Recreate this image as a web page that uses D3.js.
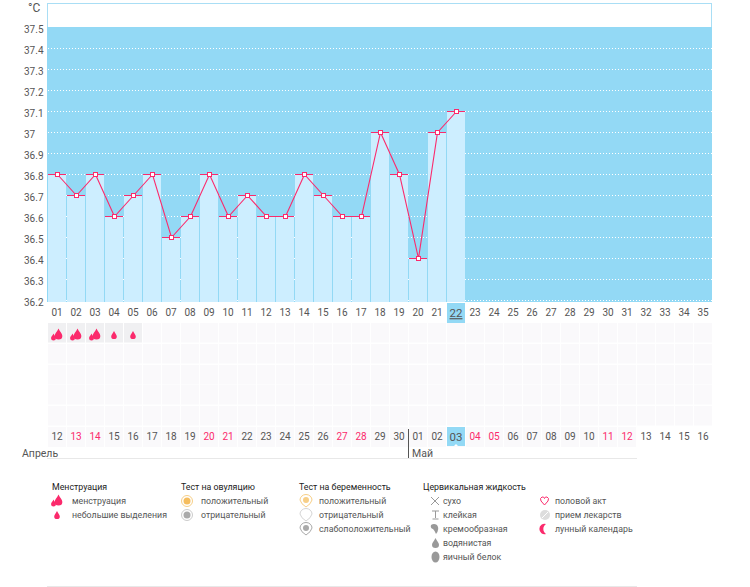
<!DOCTYPE html>
<html>
<head>
    <meta charset="utf-8">
    <script src="https://d3js.org/d3.v7.min.js" charset="utf-8"></script>
    <style>
        body { margin: 0; background: #fff; }
        svg text { font-family: Roboto, sans-serif; font-size: 10px; fill: #555; }
        svg text.legend { font-size: 8.8px; }
        .domain { display: none; }
    </style>
</head>
<body>
<script>
    // chart values
    const cycleDays = ["01","02","03","04","05","06","07","08","09","10","11","12","13","14","15","16","17","18","19","20","21","22","23","24","25","26","27","28","29","30","31","32","33","34","35"];
    const calendarDates = ["12","13","14","15","16","17","18","19","20","21","22","23","24","25","26","27","28","29","30","01","02","03","04","05","06","07","08","09","10","11","12","13","14","15","16"];
    const weekendColumns = [1,2,8,9,15,16,22,23,29,30];
    const temperatures = [36.8,36.7,36.8,36.6,36.7,36.8,36.5,36.6,36.8,36.6,36.7,36.6,36.6,36.8,36.7,36.6,36.6,37,36.8,36.4,37,37.1];
    const tempTicks = [36.2,36.3,36.4,36.5,36.6,36.7,36.8,36.9,37,37.1,37.2,37.3,37.4,37.5];
    const flowDays = ["big","big","big","small","small"];
    const rowIds = [0,1,2,3,4];
    const monthNames = ["Апрель","Май"];
    const legendTitles = ["Менструация","Тест на овуляцию","Тест на беременность","Цервикальная жидкость"];
    const legendFlow = ["менструация","небольшие выделения"];
    const legendOvulation = ["положительный","отрицательный"];
    const legendPregnancy = ["положительный","отрицательный","слабоположительный"];
    const legendFluid = ["сухо","клейкая","кремообразная","водянистая","яичный белок"];
    const legendOther = ["половой акт","прием лекарств","лунный календарь"];

    const blue = "#93d9f5", pink = "#fb2a6c", cell = "#faf9fb";
    const todayColumn = 21;

    const svg = d3.select("body").append("svg").attr("width", 750).attr("height", 587);

    const x = d3.scaleBand().domain(d3.range(35)).range([47.5, 712.5]);
    const y = d3.scaleLinear().domain([36.2, 37.5]).range([300.5, 27.5]);
    const legendRow = d3.scaleLinear().domain([0, 4]).range([501, 557]);
    // snap to the pixel row so thin lines stay sharp
    const py = d => Math.floor(y(d) + 0.01) + 0.5;

    // frame + background
    svg.append("rect").attr("x", 47.5).attr("y", 3.5).attr("width", 664).attr("height", 24)
        .attr("fill", "#fff").attr("stroke", "#a9def5");
    svg.append("rect").attr("x", 47).attr("y", 27).attr("width", 665).attr("height", 275).attr("fill", blue);

    // dotted grid
    svg.append("g").selectAll("line").data(tempTicks.slice(0, -1)).enter().append("line")
        .attr("x1", 48).attr("x2", 712)
        .attr("y1", d => py(d)).attr("y2", d => py(d))
        .attr("stroke", "#fff").attr("stroke-dasharray", "1 2");

    // bars
    svg.append("g").selectAll("rect").data(temperatures).enter().append("rect")
        .attr("x", (d, i) => x(i) + 0.5)
        .attr("y", d => py(d))
        .attr("width", 18)
        .attr("height", d => 302 - py(d))
        .attr("fill", "#cdeeff");

    // caps
    svg.append("g").selectAll("line").data(temperatures).enter().append("line")
        .attr("x1", (d, i) => x(i) + 0.5).attr("x2", (d, i) => x(i) + 18.5)
        .attr("y1", d => py(d)).attr("y2", d => py(d))
        .attr("stroke", pink);

    const line = d3.line().x((d, i) => x(i) + 10).y(d => py(d));
    svg.append("path").attr("d", line(temperatures)).attr("fill", "none").attr("stroke", pink).attr("stroke-width", 1.1);

    svg.append("g").selectAll("rect").data(temperatures).enter().append("rect")
        .attr("x", (d, i) => x(i) + 8)
        .attr("y", d => py(d) - 2)
        .attr("width", 4).attr("height", 4)
        .attr("fill", "#fff").attr("stroke", pink);

    // y axis
    svg.append("text").attr("x", 28).attr("y", 12).style("font-size", "12px").text("°C");
    const yAxis = svg.append("g").attr("transform", "translate(24,0)")
        .call(d3.axisLeft(y).tickValues(tempTicks).tickSize(0).tickFormat(d => String(d)));
    yAxis.selectAll("text").attr("x", 0).attr("dy", "0.5em").attr("text-anchor", "start");

    // cycle day axis
    svg.append("rect").attr("x", x(todayColumn) + 0.5).attr("y", 303).attr("width", 18).attr("height", 20).attr("fill", blue);
    const dayAxis = svg.append("g").attr("transform", "translate(0,303)")
        .call(d3.axisBottom(x).tickSize(0).tickFormat(i => cycleDays[i]));
    dayAxis.selectAll("text").attr("y", 6).attr("dy", "0.71em")
        .style("font-size", i => i === todayColumn ? "11.5px" : null)
        .style("text-decoration", i => i === todayColumn ? "underline" : null);

    // symptom cells
    const rowY = d3.scaleLinear().domain([0, 5]).range([323, 427]);
    rowIds.forEach(r => {
        svg.append("g").selectAll("rect").data(d3.range(35)).enter().append("rect")
            .attr("x", i => x(i) + 0.5).attr("y", Math.round(rowY(r)))
            .attr("width", 18).attr("height", 19.5)
            .attr("fill", i => r === 0 && i < flowDays.length ? "#f0f0f2" : cell);
    });

    function drop(px, dy, s) {
        return `M${px},${dy - s}C${px + s * 0.25},${dy - s * 0.4} ${px + s * 0.7},${dy - s * 0.1} ${px + s * 0.7},${dy + s * 0.35}`
            + `A${s * 0.7},${s * 0.65} 0 0 1 ${px - s * 0.7},${dy + s * 0.35}`
            + `C${px - s * 0.7},${dy - s * 0.1} ${px - s * 0.25},${dy - s * 0.4} ${px},${dy - s}Z`;
    }
    function flowIcon(g, kind, cx, cy) {
        if (kind === "big") {
            g.append("path").attr("d", drop(cx + 1.5, cy - 1, 5.5)).attr("fill", pink);
            g.append("path").attr("d", drop(cx - 3.5, cy + 2, 3.5)).attr("fill", pink);
        } else {
            g.append("path").attr("d", drop(cx, cy, 4)).attr("fill", pink);
        }
    }
    flowDays.forEach((kind, i) => flowIcon(svg.append("g"), kind, x(i) + 9.5, 335));

    // calendar row
    svg.append("g").selectAll("rect").data(d3.range(31)).enter().append("rect")
        .attr("x", i => x(i) + 0.5).attr("y", 427).attr("width", 18).attr("height", 20).attr("fill", cell);
    svg.append("rect").attr("x", x(todayColumn) + 0.5).attr("y", 427).attr("width", 18).attr("height", 19).attr("fill", blue);
    svg.append("path").attr("d", `M${x(todayColumn) + 7.5},446 l2,-2 l2,2Z`).attr("fill", "#fff");
    const dateAxis = svg.append("g").attr("transform", "translate(0,431)")
        .call(d3.axisBottom(x).tickSize(0).tickFormat(i => calendarDates[i]));
    dateAxis.selectAll("text").attr("y", 2).attr("dy", "0.71em")
        .style("font-size", i => i === todayColumn ? "11.5px" : null)
        .style("fill", i => weekendColumns.includes(i) ? pink : null);

    // months
    svg.append("line").attr("x1", 47).attr("x2", 637).attr("y1", 458.5).attr("y2", 458.5).attr("stroke", "#e8e8e8");
    svg.append("line").attr("x1", x(19)).attr("x2", x(19)).attr("y1", 429).attr("y2", 458).attr("stroke", "#555");
    svg.append("text").attr("x", 22).attr("y", 457).style("font-size", "10.5px").text(monthNames[0]);
    svg.append("text").attr("x", 412).attr("y", 457).style("font-size", "10.5px").text(monthNames[1]);

    // legend
    svg.append("line").attr("x1", 47).attr("x2", 637).attr("y1", 586.5).attr("y2", 586.5).attr("stroke", "#e8e8e8");
    const titleX = d3.scaleOrdinal().domain(legendTitles).range([52, 181, 299, 423]);
    svg.append("g").selectAll("text").data(legendTitles).enter().append("text")
        .attr("class", "legend")
        .attr("x", d => titleX(d)).attr("y", 490).style("fill", "#222").text(d => d);

    function legendColumn(items, textX, icon) {
        items.forEach((label, i) => {
            const ly = legendRow(i);
            svg.append("text").attr("class", "legend").attr("x", textX).attr("y", ly + 3).text(label);
            icon(svg.append("g"), i, ly);
        });
    }
    legendColumn(legendFlow, 72, (g, i, ly) => flowIcon(g, i === 0 ? "big" : "small", 57, ly));
    legendColumn(legendOvulation, 201, (g, i, ly) => {
        g.append("circle").attr("cx", 187).attr("cy", ly).attr("r", 5.5).attr("fill", "#fff").attr("stroke", i ? "#ccc" : "#f7cf87");
        g.append("circle").attr("cx", 187).attr("cy", ly).attr("r", 3.5).attr("fill", i ? "#aaa" : "#f5bd5e");
    });
    legendColumn(legendPregnancy, 319, (g, i, ly) => {
        const c = ["#f7cf87", "#d5d5d5", "#aaa"][i];
        g.append("path").attr("d", `M300,${ly - 1}a6,5.5 0 1 1 12,0q-1,4 -6,7q-5,-3 -6,-7Z`).attr("fill", "#fff").attr("stroke", c);
        if (i !== 1) g.append("circle").attr("cx", 306).attr("cy", ly - 1).attr("r", 3).attr("fill", c);
    });
    legendColumn(legendFluid, 443, (g, i, ly) => {
        const grey = "#999";
        if (i === 0) g.append("path").attr("d", `M431,${ly - 4}l8,8M439,${ly - 4}l-8,8`).attr("stroke", grey).attr("fill", "none");
        if (i === 1) g.append("path").attr("d", `M432,${ly - 4}h7M435.5,${ly - 4}v7M432.5,${ly + 4}h6`).attr("stroke", grey).attr("fill", "none");
        if (i === 2) g.append("path").attr("d", `M431,${ly - 4}q3,-2 6,0q3,4 -1,9q-1,-3 -3,-5q-3,-1 -2,-4Z`).attr("fill", grey);
        if (i === 3) g.append("path").attr("d", drop(435.5, ly, 5)).attr("fill", grey);
        if (i === 4) g.append("ellipse").attr("cx", 435.5).attr("cy", ly).attr("rx", 4).attr("ry", 5.5).attr("fill", grey);
    });
    legendColumn(legendOther, 555, (g, i, ly) => {
        if (i === 0) g.append("path").attr("d", `M544.5,${ly + 4}l-3.5,-4q-1.5,-3 1,-4q2,-0.5 2.5,1.5q0.5,-2 2.5,-1.5q2.5,1 1,4Z`)
            .attr("fill", "#fff").attr("stroke", pink);
        if (i === 1) {
            g.append("circle").attr("cx", 545).attr("cy", ly).attr("r", 5).attr("fill", "#ddd");
            g.append("line").attr("x1", 542).attr("x2", 548).attr("y1", ly + 3).attr("y2", ly - 3).attr("stroke", "#fff");
        }
        if (i === 2) g.append("path").attr("d", `M546,${ly - 5}a5.2,5.2 0 1 0 0,10a6,6 0 0 1 0,-10Z`).attr("fill", pink);
    });
</script>
</body>
</html>
